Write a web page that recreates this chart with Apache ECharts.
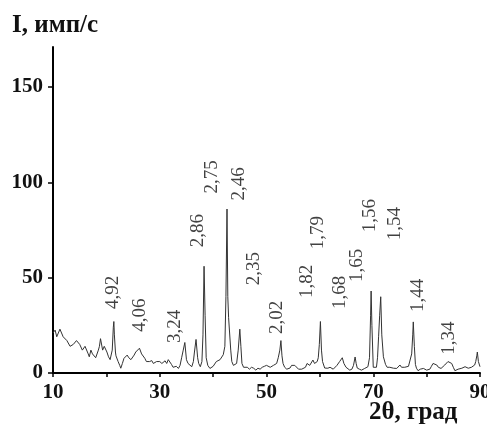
<!DOCTYPE html>
<html>
<head>
<meta charset="utf-8">
<script src="https://cdn.jsdelivr.net/npm/echarts@6/dist/echarts.min.js"></script>
<style>
html,body{margin:0;padding:0;background:#fff;}
#chart{width:487px;height:427px;}
</style>
</head>
<body>
<div id="chart"></div>
<script>
const twoTheta = [
10.0,10.4,10.7,11.0,11.3,11.6,11.9,12.2,12.6,12.9,13.2,13.5,13.8,14.1,14.4,14.7,15.0,15.2,15.5,15.7,
16.0,16.3,16.6,16.8,17.1,17.4,17.7,18.0,18.2,18.5,18.7,18.9,19.1,19.3,19.6,19.9,20.1,20.4,20.7,20.9,
21.1,21.3,21.4,21.5,21.7,21.8,22.0,22.2,22.5,22.7,23.0,23.3,23.6,23.9,24.2,24.6,24.9,25.2,25.5,25.8,
26.2,26.6,26.9,27.2,27.5,27.8,28.1,28.5,28.8,29.1,29.4,29.7,30.0,30.4,30.7,31.0,31.3,31.6,31.9,32.2,
32.5,32.8,33.1,33.5,33.8,34.1,34.4,34.7,35.0,35.3,35.6,36.0,36.3,36.5,36.8,37.1,37.3,37.6,37.9,38.1,
38.3,38.5,38.7,39.0,39.4,39.7,40.0,40.3,40.6,40.9,41.3,41.6,41.9,42.2,42.4,42.6,42.75,42.9,43.1,43.3,
43.5,43.8,44.1,44.4,44.7,45.0,45.2,45.4,45.7,46.0,46.4,46.8,47.2,47.6,48.0,48.4,48.8,49.2,49.6,50.0,
50.3,50.7,51.0,51.3,51.6,51.9,52.2,52.5,52.7,52.9,53.1,53.4,53.8,54.1,54.4,54.7,55.0,55.3,55.6,56.0,
56.3,56.6,56.9,57.3,57.6,57.8,58.1,58.4,58.7,59.0,59.2,59.5,59.7,59.9,60.1,60.3,60.5,60.9,61.2,61.5,
61.9,62.2,62.5,62.8,63.2,63.5,63.7,64.0,64.2,64.5,64.9,65.2,65.6,66.0,66.3,66.6,66.8,67.0,67.4,67.8,
68.1,68.4,68.7,69.0,69.3,69.5,69.6,69.75,70.0,70.3,70.6,70.8,71.0,71.2,71.4,71.6,71.9,72.3,72.6,72.8,
73.1,73.4,73.8,74.1,74.4,74.7,75.0,75.3,75.6,75.9,76.2,76.6,76.9,77.2,77.4,77.5,77.7,77.9,78.1,78.4,
78.8,79.1,79.4,79.7,80.0,80.3,80.6,80.9,81.2,81.5,81.9,82.2,82.5,82.7,83.0,83.4,83.7,84.0,84.3,84.7,
85.0,85.3,85.6,85.9,86.2,86.6,86.9,87.2,87.5,87.8,88.1,88.4,88.7,89.0,89.2,89.4,89.5,89.7,90.0
];
const intensity = [
21,22.5,19,20,23,22,19,20,17,16,14,13,15,14,17,18,15,15.5,12,11,
14,13,10,8.5,12,10,11,8,8.5,12,14,18,19,12,14,15,11,8.5,7,6,
12,24,27,20,11,9,8,6,4,2.5,5,7.7,8,9.4,8,7,8,9.4,11,12,
13,10,9,7.7,6,5,6,6.5,5,4.5,6,7,6,5,6,6.4,5,7,6,4.5,
3,2,3.5,2.4,4,8,12,16,7,5,4,3.3,6,11,17.6,8,5,3.3,6,20,
56,30,8,4,2.4,3,3.5,4,6,5,7,8,9.6,14,40,86,40,29,28,12,
6,4,3,5,12,23,14,5,3,2.5,3,2,3,2.5,1.5,2.5,2,3,3.5,4,
4.5,3,3.5,4,5,5,8,12,17,9,5,3,2,2.5,2.6,4,5,4,3,2,
1.5,2,2.6,3,5,6,4,4,6.8,5,4,6,8,15,27,12,6,2.6,3,2.5,
3,2.5,2,2.6,4,5,6,7,8,5,3,2,1.5,2,4,8.4,5,2.6,2,1.5,
2,2.4,2.6,3.3,8,30,43,25,3,2.5,3,8,19,30,40,20,8.5,4.5,3,2.5,
3,3.3,2.5,3,2.4,3,4.2,3,2.4,3,3.3,3.5,4.5,10,20,26.8,14,4.5,2.5,1.2,
2,2.5,2.4,2,1.5,1.2,2,3.5,5,4,4.2,3,2.5,2.4,3,4.2,5,6,5.8,5,
3,1.2,1.5,2,2.4,2.5,3,3.3,2.5,2.5,2.4,3,3.5,4.2,6,9,11,6,3.3
];
// peak annotations (interplanar spacing, Å): text, anchor 2θ, anchor intensity
const peakLabels = ["4,92","4,06","3,24","2,86","2,75","2,46","2,35","2,02","1,82","1,79","1,68","1,65","1,56","1,54","1,44","1,34"];
const labelTheta = [21.2,26.3,32.8,37.2,39.8,44.8,47.6,51.9,57.6,59.6,63.7,66.9,69.4,74.0,78.4,84.2];
const labelI =     [42.3,30.3,24.5,74.7,102.9,99.2,54.8,29.2,48.0,73.6,42.3,56.4,82.5,78.3,40.7,18.3];
const yTicks = [0,50,100,150];
const xTickMarks = [10,20,30,40,50,60,70,80,90];
const xTickLabels = [10,30,50,70,90];

const serif = '"Liberation Serif","DejaVu Serif",serif';
const chart = echarts.init(document.getElementById('chart'), null, {renderer:'canvas'});
chart.setOption({
  backgroundColor:'#fff',
  animation:false,
  grid:{left:53,right:7,top:47,bottom:54,containLabel:false,outerBoundsMode:'none'},
  xAxis:{
    type:'value', min:10, max:90,
    axisLine:{lineStyle:{color:'#000',width:2}},
    axisTick:{show:true,customValues:xTickMarks,length:4,lineStyle:{color:'#000',width:1.5}},
    axisLabel:{customValues:xTickLabels,margin:9,color:'#111',fontFamily:serif,fontWeight:'bold',fontSize:21,hideOverlap:false},
    splitLine:{show:false}
  },
  yAxis:{
    type:'value', min:0, max:171,
    axisLine:{show:true,lineStyle:{color:'#000',width:2}},
    axisTick:{show:true,customValues:yTicks,length:5,lineStyle:{color:'#000',width:1.5}},
    axisLabel:{customValues:yTicks,margin:10,color:'#111',fontFamily:serif,fontWeight:'bold',fontSize:21},
    splitLine:{show:false}
  },
  series:[
    {
      type:'line',
      data: twoTheta.map((t,i)=>[t,intensity[i]]),
      showSymbol:false,
      lineStyle:{color:'#333',width:1},
      silent:true
    },
    {
      type:'scatter',
      data: labelTheta.map((t,i)=>[t,labelI[i],peakLabels[i]]),
      symbolSize:0,
      silent:true,
      label:{
        show:true, position:'inside', rotate:90,
        formatter:p=>p.data[2],
        color:'#111', fontFamily:serif, fontSize:19
      }
    }
  ],
  graphic:[
    {type:'text',left:12,top:13,style:{text:'I, имп/с',font:'bold 25px '+serif,fill:'#111'}},
    {type:'text',left:369,top:400,style:{text:'2θ, град',font:'bold 25px '+serif,fill:'#111'}}
  ]
});
</script>
</body>
</html>
